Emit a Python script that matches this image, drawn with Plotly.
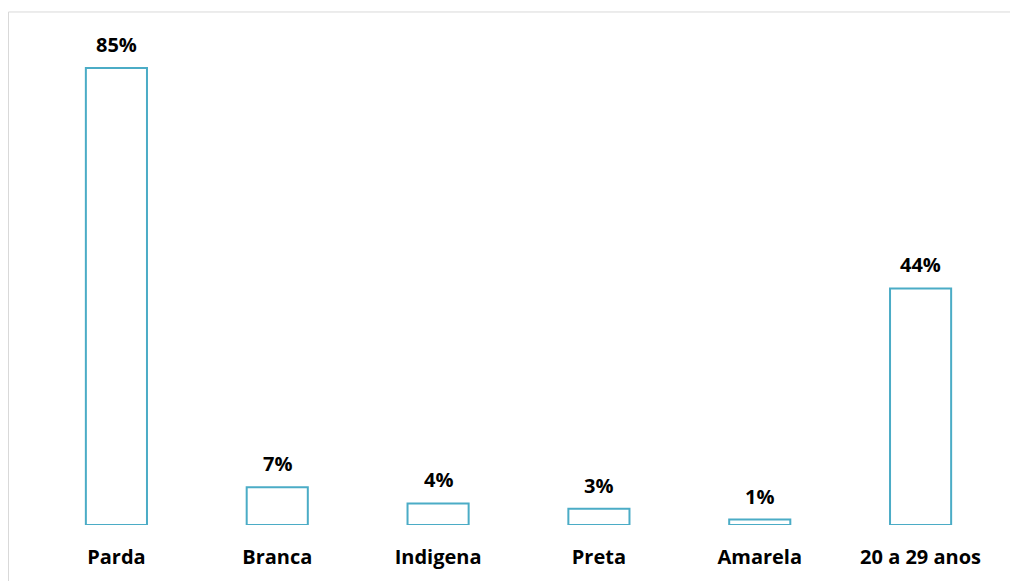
import plotly.graph_objects as go

categories = ["Parda", "Branca", "Indigena", "Preta", "Amarela", "20 a 29 anos"]
values = [85, 7, 4, 3, 1, 44]
labels = ["85%", "7%", "4%", "3%", "1%", "44%"]

teal = "#4BACC6"
font_family = "Open Sans"

fig = go.Figure()
fig.add_trace(go.Bar(
    x=categories, y=values,
    marker=dict(color="rgba(255,255,255,0)", line=dict(color=teal, width=2)),
    hoverinfo="skip",
))

for c, v, t in zip(categories, values, labels):
    fig.add_annotation(x=c, y=v, text="<b>%s</b>" % t, showarrow=False,
                       yanchor="bottom", yshift=8,
                       font=dict(family=font_family, size=20, color="#000000"))

fig.add_shape(type="rect", xref="paper", yref="paper",
              x0=-0.0285, x1=1.2, y0=-0.3, y1=1.0364,
              line=dict(color="#D9D9D9", width=1), fillcolor="rgba(0,0,0,0)", layer="below")

fig.update_layout(
    width=1010, height=573,
    margin=dict(l=28, r=17, t=22, b=56),
    paper_bgcolor="white", plot_bgcolor="white",
    bargap=0.62,
    showlegend=False,
    font=dict(family=font_family, size=20, color="#000000"),
)
fig.update_xaxes(showgrid=False, zeroline=False, showline=False, ticks="",
                 tickfont=dict(family=font_family, size=20, color="#000000", weight="bold"),
                 ticklabelstandoff=18)
fig.update_yaxes(range=[0, 92.07], visible=False, showgrid=False, zeroline=False)

fig.write_html("out.html")
